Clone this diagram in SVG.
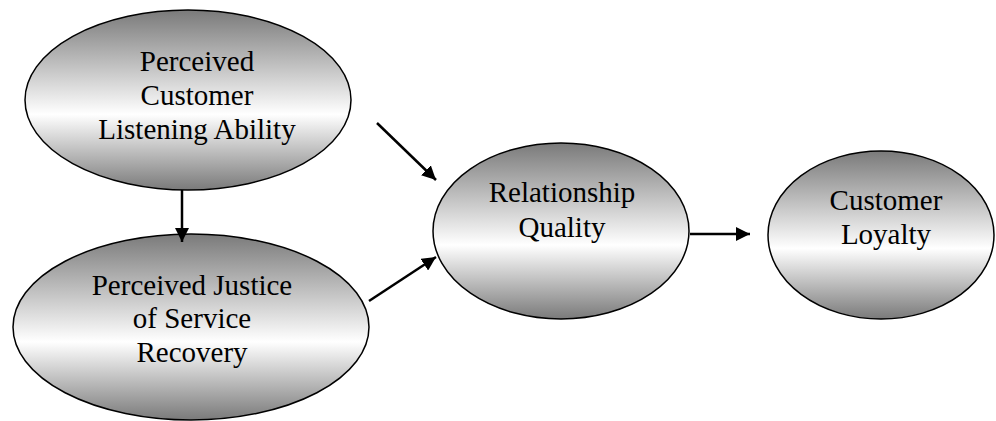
<svg xmlns="http://www.w3.org/2000/svg" width="996" height="421" viewBox="0 0 996 421">
<defs>
<linearGradient id="g" x1="0" y1="0" x2="0" y2="1">
<stop offset="0" stop-color="#7a7a7a"/>
<stop offset="0.58" stop-color="#ffffff"/>
<stop offset="1" stop-color="#7a7a7a"/>
</linearGradient>
<marker id="arr" viewBox="0 0 14 14" refX="14" refY="7" markerWidth="14" markerHeight="14" markerUnits="userSpaceOnUse" orient="auto">
<path d="M0,0 L14,7 L0,14 Z" fill="#000"/>
</marker>
<style>
.node ellipse{fill:url(#g);stroke:#000;stroke-width:1.5}
.node text{font-family:"Liberation Serif","Times New Roman",serif;font-size:29px;fill:#000;text-anchor:middle}
.conn line{stroke:#000;stroke-width:2.5;marker-end:url(#arr)}
</style>
</defs>
<rect width="996" height="421" fill="#fff"/>
<g id="n1" class="node">
<ellipse cx="188" cy="100" rx="163" ry="90"/>
<text x="197" y="71">Perceived</text>
<text x="197" y="105">Customer</text>
<text x="197" y="139">Listening Ability</text>
</g>
<g id="n2" class="node">
<ellipse cx="191" cy="327" rx="178" ry="93"/>
<text x="192" y="295">Perceived Justice</text>
<text x="192" y="328">of Service</text>
<text x="192" y="362">Recovery</text>
</g>
<g id="n3" class="node">
<ellipse cx="561" cy="231" rx="128" ry="88"/>
<text x="562" y="202">Relationship</text>
<text x="562" y="237">Quality</text>
</g>
<g id="n4" class="node">
<ellipse cx="881" cy="235" rx="113" ry="84"/>
<text x="886" y="210">Customer</text>
<text x="886" y="244">Loyalty</text>
</g>
<g id="connectors" class="conn">
<line x1="182" y1="190" x2="182" y2="242"/>
<line x1="377" y1="123" x2="436" y2="180"/>
<line x1="369" y1="301" x2="436" y2="257"/>
<line x1="690" y1="234" x2="750" y2="234"/>
</g>
</svg>
